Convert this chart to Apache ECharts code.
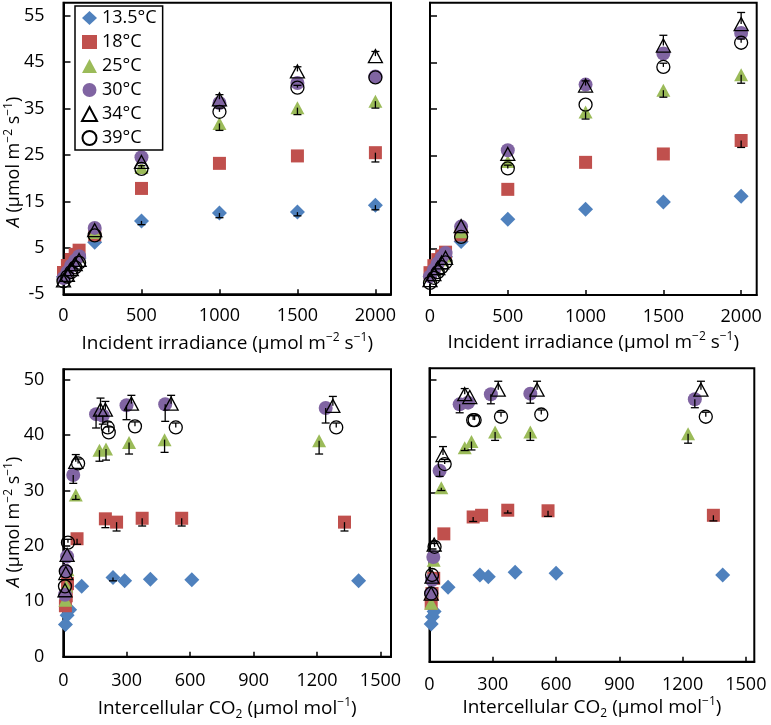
<!DOCTYPE html>
<html><head><meta charset="utf-8">
<script src="https://cdn.jsdelivr.net/npm/echarts@6/dist/echarts.min.js"></script>
<style>html,body{margin:0;padding:0;background:#fff}#c{width:771px;height:725px}</style>
</head><body><div id="c"></div>
<script>
// ---------- categories / ticks ----------
const temps = ['13.5°C', '18°C', '25°C', '30°C', '34°C', '39°C'];
const irradiance = [0, 25, 50, 75, 100, 200, 500, 1000, 1500, 2000];
const irrTicks = [0, 500, 1000, 1500, 2000];
const aTicksTop = [-5, 5, 15, 25, 35, 45, 55];
const ciTicks = [0, 300, 600, 900, 1200, 1500];
const aTicksBottom = [0, 10, 20, 30, 40, 50];

// ---------- top-left: A vs irradiance ----------
const tlA13 = [-1.2, 0.0, 1.0, 2.0, 2.8, 6.2, 10.8, 12.5, 12.7, 14.2];
const tlA18 = [-0.3, 1.2, 2.5, 3.6, 4.5, 7.8, 17.8, 23.2, 24.8, 25.5];
const tlA25 = [-1.0, 0.3, 1.5, 2.4, 3.2, 8.3, 22.3, 31.8, 35.2, 36.6];
const tlA30 = [-1.5, -0.2, 1.2, 2.3, 3.2, 9.3, 24.5, 36.2, 40.5, 41.9];
const tlA34 = [-2.0, -0.8, 0.4, 1.5, 2.4, 8.8, 23.5, 37.0, 43.0, 46.3];
const tlA39 = [-2.2, -1.2, -0.2, 0.8, 1.8, 7.7, 22.0, 34.3, 39.5, 41.7];
// signed error bars (0 = none drawn)
const tlE13 = [0, 0, 0, 0, 0, 0, -0.8, -1.0, -0.8, -1.0];
const tlE18 = [0, 0, 0, 0, 0, 0, 0, 0, 0, -2.0];
const tlE25 = [0, 0, 0, 0, 0, 0, 0, -1.5, -1.5, -1.5];
const tlE30 = [0, 0, 0, 0, 0, 0, 0, 0, 0, 0];
const tlE34 = [0, 0, 0, 0, 0, 0, 0, 1.0, 1.0, 1.0];
const tlE39 = [0, 0, 0, 0, 0, 0, 0.7, 0.8, 0.5, 0];

// ---------- top-right: A vs irradiance ----------
const trA13 = [-1.0, 0.3, 1.5, 2.5, 3.2, 6.5, 11.3, 13.4, 15.0, 16.2];
const trA18 = [-0.2, 1.3, 2.6, 3.4, 4.2, 7.9, 17.7, 23.5, 25.3, 28.2];
const trA25 = [-0.8, 0.5, 1.6, 2.6, 3.4, 8.6, 23.7, 34.3, 39.0, 42.3];
const trA30 = [-1.0, 0.4, 1.8, 3.0, 4.0, 9.7, 26.1, 40.2, 46.9, 51.3];
const trA34 = [-1.8, -0.5, 0.8, 2.0, 3.0, 9.8, 25.3, 40.0, 48.6, 53.2];
const trA39 = [-2.4, -1.3, -0.1, 1.0, 2.0, 7.5, 22.2, 35.9, 44.0, 49.2];
const trE13 = [0, 0, 0, 0, 0, 0, 0, 0, 0, 0];
const trE18 = [0, 0, 0, 0, 0, 0, 0, 0, 0, -1.5];
const trE25 = [0, 0, 0, 0, 0, 0, 0, -1.5, -1.5, -1.8];
const trE30 = [0, 0, 0, 0, 0, 0, 0, 0, 0, 0];
const trE34 = [0, 0, 0, 0, 0, 0, 0, 1.0, 2.2, 2.5];
const trE39 = [0, 0, 0, 0, 0, 0, 0.7, 0, 0.8, 0.8];

// ---------- bottom-left: A vs Ci  [Ci, A, signed error] ----------
const bl13 = [[10, 5.8, 0], [18, 7.5, 0], [30, 8.5, 0], [87, 12.7, 0], [235, 14.3, -0.6], [290, 13.7, 0], [412, 14.0, 0], [608, 13.9, 0], [1397, 13.7, 0]];
const bl18 = [[10, 9.2, 0], [14, 11.0, 0], [20, 13.2, 0], [65, 21.3, -1.0], [199, 24.9, -1.6], [252, 24.3, -1.6], [373, 25.0, -1.4], [560, 25.0, -1.4], [1330, 24.3, -1.6]];
const bl25 = [[10, 10.2, 0], [14, 12.7, 0], [20, 15.7, 0], [59, 29.2, -0.8], [171, 37.3, -2.0], [202, 37.5, -2.0], [311, 38.7, -2.1], [479, 39.2, -2.3], [1210, 39.0, -2.4]];
const bl30 = [[8, 11.2, 0], [12, 15.5, 0], [18, 18.1, 0], [47, 32.8, -1.5], [155, 43.8, -2.5], [187, 43.5, -1.5], [299, 45.4, -2.6], [482, 45.6, -3.1], [1241, 44.9, -2.7]];
const bl34 = [[8, 12.0, 0], [12, 15.1, 0], [18, 18.4, 0], [59, 35.2, 1.3], [176, 44.6, 2.1], [199, 44.6, 1.5], [322, 45.7, 1.5], [510, 45.7, 1.5], [1275, 45.3, 1.7]];
const bl39 = [[8, 12.7, 0], [12, 15.4, 0], [22, 20.6, 0.6], [70, 34.9, 0.8], [210, 41.4, 1.0], [215, 40.5, 1.0], [339, 41.6, 0.8], [532, 41.4, 0.8], [1291, 41.4, 0.8]];

// ---------- bottom-right: A vs Ci ----------
const br13 = [[8, 6.7, 0], [14, 8.0, 0], [22, 8.9, 0], [88, 13.2, 0], [239, 15.4, 0], [279, 15.1, 0], [406, 15.9, 0], [600, 15.7, 0], [1390, 15.4, 0]];
const br18 = [[8, 10.4, 0], [12, 12.1, 0], [20, 14.8, 0], [68, 22.7, 0], [207, 25.7, -0.8], [247, 26.0, 0], [371, 26.9, -0.5], [562, 26.8, -1.0], [1346, 26.0, -1.0]];
const br25 = [[8, 10.4, 0], [12, 12.7, 0], [20, 18.0, 0], [56, 30.9, -0.5], [167, 38.0, -0.5], [199, 39.1, -1.5], [311, 40.8, -1.5], [478, 40.8, -1.5], [1226, 40.5, -1.7]];
const br30 = [[8, 12.1, 0], [12, 14.5, 0], [18, 18.6, 0], [48, 33.9, -1.0], [143, 45.7, -1.5], [183, 46.0, 0], [291, 47.5, -1.7], [478, 47.6, -1.7], [1258, 46.6, -1.5]];
const br34 = [[8, 12.1, 0], [12, 15.1, 0], [22, 20.8, 0.5], [64, 36.7, 1.5], [167, 47.5, 1.0], [191, 47.0, 0], [326, 48.3, 1.5], [510, 48.3, 1.5], [1287, 48.3, 1.5]];
const br39 = [[8, 12.1, 0], [12, 15.4, 0], [24, 20.4, 0.6], [72, 35.1, 0.8], [207, 42.9, 0.8], [214, 42.9, 0.8], [339, 43.5, 0.8], [530, 43.9, 0.8], [1310, 43.5, 0.8]];

// ---------- build ----------
const FONT = 'Open Sans';
const markStyles = [
  { symbol: 'diamond', symbolSize: [15, 15], itemStyle: { color: '#4F81BD', opacity: 1 } },
  { symbol: 'rect', symbolSize: [13, 13], itemStyle: { color: '#C0504D', opacity: 1 } },
  { symbol: 'triangle', symbolSize: [14, 13], itemStyle: { color: '#9BBB59', opacity: 1 } },
  { symbol: 'circle', symbolSize: [14, 14], itemStyle: { color: '#8064A2', opacity: 1 } },
  { symbol: 'triangle', symbolSize: [14, 13], itemStyle: { color: 'rgba(255,255,255,0)', borderColor: '#000', borderWidth: 1.3, opacity: 1 } },
  { symbol: 'circle', symbolSize: [13, 13], itemStyle: { color: 'rgba(255,255,255,0)', borderColor: '#000', borderWidth: 1.3, opacity: 1 } }
];

const lightPanels = [
  { A: [tlA13, tlA18, tlA25, tlA30, tlA34, tlA39], E: [tlE13, tlE18, tlE25, tlE30, tlE34, tlE39] },
  { A: [trA13, trA18, trA25, trA30, trA34, trA39], E: [trE13, trE18, trE25, trE30, trE34, trE39] }
];
const ciPanels = [[bl13, bl18, bl25, bl30, bl34, bl39], [br13, br18, br25, br30, br34, br39]];

const series = [];
function errSeries(gi, rows) {
  return {
    type: 'custom', xAxisIndex: gi, yAxisIndex: gi, data: rows, z: 5, silent: true,
    renderItem(params, api) {
      const x = api.value(0), y = api.value(1), e = api.value(2);
      const p0 = api.coord([x, y]), p1 = api.coord([x, y + e]);
      const st = { stroke: '#000', lineWidth: 1.3 };
      return { type: 'group', children: [
        { type: 'line', shape: { x1: p0[0], y1: p0[1], x2: p1[0], y2: p1[1] }, style: st },
        { type: 'line', shape: { x1: p1[0] - 4, y1: p1[1], x2: p1[0] + 4, y2: p1[1] }, style: st }
      ] };
    }
  };
}

lightPanels.forEach((p, gi) => {
  const errRows = [];
  p.A.forEach((arr, si) => {
    series.push(Object.assign({
      type: 'scatter', name: temps[si], xAxisIndex: gi, yAxisIndex: gi,
      data: irradiance.map((x, i) => [x, arr[i]])
    }, markStyles[si]));
    p.E[si].forEach((e, i) => { if (e !== 0) errRows.push([irradiance[i], arr[i], e]); });
  });
  series.push(errSeries(gi, errRows));
});
ciPanels.forEach((p, k) => {
  const gi = k + 2;
  const errRows = [];
  p.forEach((rows, si) => {
    series.push(Object.assign({
      type: 'scatter', name: temps[si], xAxisIndex: gi, yAxisIndex: gi,
      data: rows.map(r => [r[0], r[1]])
    }, markStyles[si]));
    rows.forEach(r => { if (r[2] !== 0) errRows.push(r); });
  });
  series.push(errSeries(gi, errRows));
});

function makeRich(fs, ss) {
  return {
    n: { fontFamily: FONT, fontSize: fs, color: '#000', lineHeight: fs + 5 },
    i: { fontFamily: FONT, fontSize: fs, color: '#000', lineHeight: fs + 5, fontStyle: 'italic' },
    sup: { fontFamily: FONT, fontSize: ss, color: '#000', lineHeight: ss + 1, verticalAlign: 'top' },
    sub: { fontFamily: FONT, fontSize: ss, color: '#000', lineHeight: ss + 1, verticalAlign: 'bottom' }
  };
}
const richX = makeRich(19, 12);
const richY = makeRich(18, 12);
const irrName = '{n|Incident irradiance (μmol m}{sup|−2}{n| s}{sup|−1}{n|)}';
const ciName = '{n|Intercellular CO}{sub|2}{n| (μmol mol}{sup|−1}{n|)}';
const aName = '{i|A}{n| (μmol m}{sup|−2}{n| s}{sup|−1}{n|)}';

function xAx(gi, max, ticks, margin, nameGap, name) {
  return {
    type: 'value', gridIndex: gi, min: 0, max: max,
    axisLine: { show: true, onZero: false, lineStyle: { color: '#000', width: 2 } },
    axisTick: { show: true, inside: true, length: 5, customValues: ticks, lineStyle: { color: '#000', width: 1.5 } },
    axisLabel: { customValues: ticks, color: '#000', fontFamily: FONT, fontSize: 18, margin: margin, formatter: v => String(v) },
    splitLine: { show: false },
    name: name, nameLocation: 'middle', nameGap: nameGap, nameTextStyle: { rich: richX }
  };
}
function yAx(gi, min, max, ticks, showLabels) {
  return {
    type: 'value', gridIndex: gi, min: min, max: max,
    axisLine: { show: true, onZero: false, lineStyle: { color: '#000', width: 2 } },
    axisTick: { show: true, inside: true, length: 7, customValues: ticks, lineStyle: { color: '#000', width: 1.5 } },
    axisLabel: { show: showLabels, customValues: ticks, color: '#000', fontFamily: FONT, fontSize: 18, margin: 19, formatter: v => String(v) },
    splitLine: { show: false }
  };
}
const gridBase = { show: true, borderColor: '#000', borderWidth: 2, backgroundColor: 'transparent', containLabel: false };

const option = {
  animation: false,
  backgroundColor: '#fff',
  textStyle: { fontFamily: FONT },
  grid: [
    Object.assign({ left: 63.5, top: 2.7, width: 327.5, height: 291.6 }, gridBase),
    Object.assign({ left: 430, top: 2.7, width: 326.7, height: 292.3 }, gridBase),
    Object.assign({ left: 63.3, top: 369.3, width: 327.7, height: 287.4 }, gridBase),
    Object.assign({ left: 429.5, top: 368.3, width: 324.8, height: 293.4 }, gridBase)
  ],
  xAxis: [
    xAx(0, 2100, irrTicks, 13, 37, irrName),
    xAx(1, 2100, irrTicks, 13, 36, irrName),
    xAx(2, 1550, ciTicks, 15, 40, ciName),
    xAx(3, 1540, ciTicks, 14, 34, ciName)
  ],
  yAxis: [
    yAx(0, -5, 57.8, aTicksTop, true),
    yAx(1, -5, 57.8, aTicksTop, false),
    yAx(2, 0, 51.9, aTicksBottom, true),
    yAx(3, 0, 52.1, aTicksBottom, false)
  ],
  legend: {
    data: temps, orient: 'vertical', left: 75, top: 6,
    backgroundColor: '#fff', borderColor: '#000', borderWidth: 1.5, borderRadius: 0,
    padding: [3, 6, 3, 6], itemGap: 6, itemWidth: 15, itemHeight: 14,
    textStyle: { color: '#000', fontFamily: FONT, fontSize: 18 },
    selectedMode: false, z: 10
  },
  graphic: [
    { type: 'text', x: 14, y: 162, rotation: Math.PI / 2, style: { text: aName, rich: richY, align: 'center', verticalAlign: 'middle' } },
    { type: 'text', x: 14, y: 522, rotation: Math.PI / 2, style: { text: aName, rich: richY, align: 'center', verticalAlign: 'middle' } }
  ],
  series: series
};
echarts.init(document.getElementById('c')).setOption(option);
</script></body></html>
